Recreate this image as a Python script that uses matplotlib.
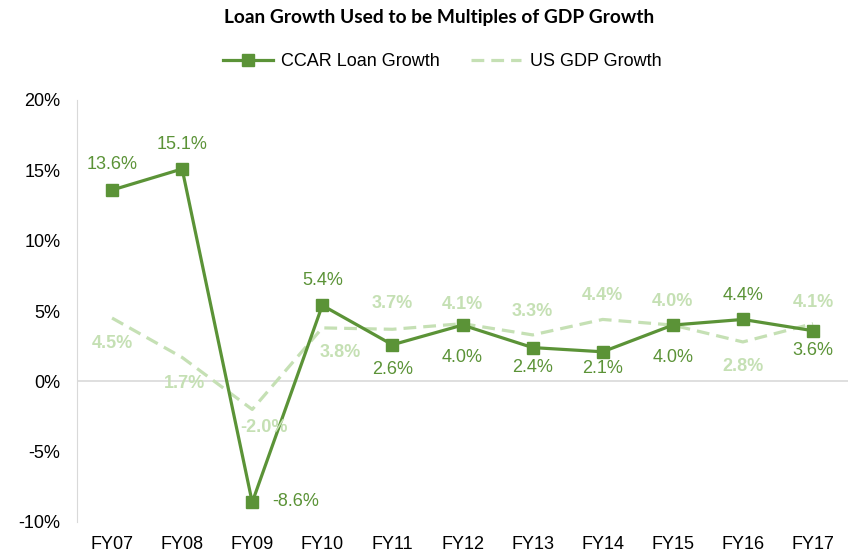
import matplotlib.pyplot as plt
from matplotlib.ticker import FuncFormatter

plt.rcParams['font.family'] = ['Liberation Sans', 'DejaVu Sans']

years = ['FY07', 'FY08', 'FY09', 'FY10', 'FY11', 'FY12',
         'FY13', 'FY14', 'FY15', 'FY16', 'FY17']
ccar = [13.6, 15.1, -8.6, 5.4, 2.6, 4.0, 2.4, 2.1, 4.0, 4.4, 3.6]
gdp = [4.5, 1.7, -2.0, 3.8, 3.7, 4.1, 3.3, 4.4, 4.0, 2.8, 4.1]

# label offsets in pixels (dx, dy)
ccar_off = [(0, 26), (0, 24), (43, 1), (0, 25), (0, -25), (0, -32),
            (0, -20), (0, -17), (0, -32), (0, 24), (0, -20)]
gdp_off = [(0, -25), (2, -26), (12, -18), (18, -25), (0, 26), (0, 19),
           (0, 23), (0, 24), (0, 24), (0, -25), (0, 21)]

dark = '#5B9337'
light = '#C5E0B4'

fig = plt.figure(figsize=(8.48, 5.53), dpi=100)
W, H = 848, 553
ax = fig.add_axes([77 / W, 31 / H, (848 - 77) / W, (522 - 100) / H])

x = list(range(len(years)))
ax.plot(x, gdp, color=light, lw=2.3, ls=(0, (4, 2.2)), label='US GDP Growth', zorder=2)
ax.plot(x, ccar, color=dark, lw=2.3, marker='s', ms=8, label='CCAR Loan Growth', zorder=3)

for i in x:
    ax.annotate(f'{ccar[i]:.1f}%', (i, ccar[i]), xytext=ccar_off[i],
                textcoords='offset pixels', ha='center', va='center',
                fontsize=13, color=dark)
    ax.annotate(f'{gdp[i]:.1f}%', (i, gdp[i]), xytext=gdp_off[i],
                textcoords='offset pixels', ha='center', va='center',
                fontsize=13, color=light, fontweight='bold')

ax.set_xlim(-0.5, len(years) - 0.5)
ax.set_ylim(-10, 20)
ax.set_yticks(range(-10, 21, 5))
ax.yaxis.set_major_formatter(FuncFormatter(lambda v, p: f'{v:.0f}%'))
ax.set_xticks(x)
ax.set_xticklabels(years)
ax.tick_params(axis='both', length=0, labelsize=13)
ax.tick_params(axis='x', pad=10)
ax.tick_params(axis='y', pad=12)
for s in ['top', 'right', 'bottom']:
    ax.spines[s].set_visible(False)
ax.spines['left'].set_color('#D9D9D9')
ax.axhline(0, color='#D9D9D9', lw=1.2, zorder=1)

h, l = ax.get_legend_handles_labels()
fig.legend(h[::-1], l[::-1], loc='center', bbox_to_anchor=(442 / W, 1 - 62 / H),
           ncol=2, frameon=False, fontsize=13, handlelength=2.8,
           handletextpad=0.45, columnspacing=1.7)

fig.text(439 / W, 1 - 18 / H, 'Loan Growth Used to be Multiples of GDP Growth',
         ha='center', va='center', fontsize=13.8, fontweight='bold',
         family=['Lato', 'DejaVu Sans'])

fig.savefig('out.png', dpi=100)
